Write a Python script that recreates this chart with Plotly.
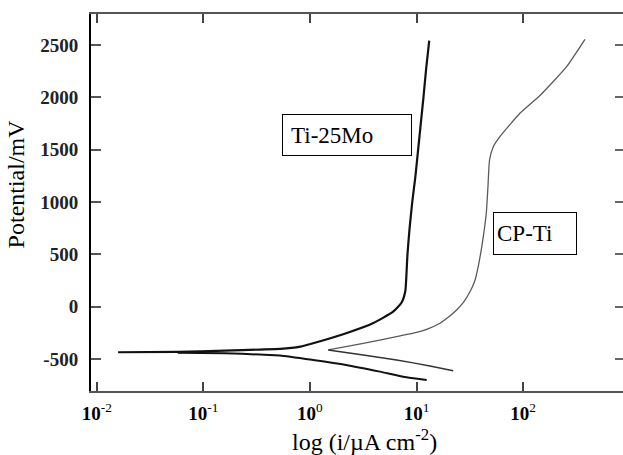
import plotly.graph_objects as go

# ---- data (log10 of current density in uA/cm2, potential in mV) ----
ti25mo_anodic_logi = [-1.80, -1.24, -0.80, -0.47, -0.28, -0.09, 0.03, 0.34, 0.59, 0.78, 0.86,
                      0.895, 0.905, 0.915, 0.935, 0.96, 0.99, 1.015, 1.04, 1.065, 1.09, 1.119]
ti25mo_anodic_E = [-436, -432, -421, -410, -404, -382, -350, -254, -159, -48, 40,
                   150, 300, 500, 750, 1000, 1250, 1500, 1750, 2000, 2270, 2541]

ti25mo_cathodic_logi = [-1.24, -0.80, -0.47, -0.28, 0.03, 0.34, 0.657, 0.907, 1.095]
ti25mo_cathodic_E = [-440, -445, -458, -466, -509, -557, -621, -675, -700]

cpti_anodic_logi = [0.172, 0.50, 0.813, 0.969, 1.10, 1.22, 1.30, 1.376, 1.44, 1.50, 1.548,
                    1.58, 1.61, 1.635, 1.655, 1.670, 1.685, 1.72, 1.782, 1.97, 2.16, 2.408, 2.58]
cpti_anodic_E = [-414, -350, -287, -254, -215, -159, -100, -32, 40, 140, 250,
                 390, 560, 730, 900, 1146, 1401, 1528, 1624, 1847, 2020, 2293, 2554]

cpti_cathodic_logi = [0.172, 0.50, 0.813, 1.126, 1.344]
cpti_cathodic_E = [-414, -462, -509, -567, -612]

x_tick_exps = [-2, -1, 0, 1, 2]
y_tick_vals = [-500, 0, 500, 1000, 1500, 2000, 2500]

FONT = "Liberation Serif"

fig = go.Figure()

def add(logi, E, color, width, name):
    fig.add_trace(go.Scatter(
        x=[10 ** v for v in logi], y=E, mode="lines", name=name,
        line=dict(color=color, width=width, shape="spline", smoothing=0.5),
        showlegend=False, hoverinfo="skip"))

add(ti25mo_anodic_logi, ti25mo_anodic_E, "#111111", 2.2, "Ti-25Mo")
add(ti25mo_cathodic_logi, ti25mo_cathodic_E, "#111111", 2.0, "Ti-25Mo")
add(cpti_anodic_logi, cpti_anodic_E, "#5a5a5a", 1.3, "CP-Ti")
add(cpti_cathodic_logi, cpti_cathodic_E, "#333333", 1.5, "CP-Ti")

# invisible trace so the right-hand tick axis is drawn
fig.add_trace(go.Scatter(x=[None], y=[None], yaxis="y2", mode="lines",
                         showlegend=False, hoverinfo="skip"))

fig.update_layout(
    width=623, height=455,
    margin=dict(l=91, r=0, t=14, b=64, autoexpand=False),
    paper_bgcolor="white", plot_bgcolor="white",
    font=dict(family=FONT, color="black"),
    xaxis=dict(
        type="log", range=[-2.054, 2.937], automargin=False,
        tickmode="array",
        tickvals=[10 ** e for e in x_tick_exps],
        ticktext=[f"<b>10</b><sup>{e}</sup>" for e in x_tick_exps],
        tickfont=dict(size=19, family=FONT, color="black"),
        ticks="inside", ticklen=9, tickwidth=1.5, tickcolor="#444",
        showline=True, linecolor="#555", linewidth=1.5, mirror="ticks",
        showgrid=False, zeroline=False, ticklabelstandoff=4,
    ),
    yaxis=dict(
        range=[-806, 2796], automargin=False,
        tickmode="array", tickvals=y_tick_vals,
        ticktext=[str(v) for v in y_tick_vals],
        tickfont=dict(size=19, family=FONT, color="#222", weight="bold"),
        ticks="inside", ticklen=10, tickwidth=1.5, tickcolor="#555",
        showline=True, linecolor="black", linewidth=2, mirror=False,
        showgrid=False, zeroline=False, ticklabelstandoff=7,
    ),
    yaxis2=dict(
        overlaying="y", side="right", matches="y", automargin=False,
        tickmode="array", tickvals=y_tick_vals, showticklabels=False,
        ticks="inside", ticklen=8, tickwidth=1.5, tickcolor="#666",
        showline=False, showgrid=False, zeroline=False,
    ),
    annotations=[
        dict(text="Potential/mV", xref="paper", yref="paper", x=-0.1403, y=0.549,
             xanchor="center", yanchor="middle", textangle=-90, showarrow=False,
             font=dict(size=24, family=FONT, color="black")),
        dict(text="log (i/\u00b5A cm<sup>-2</sup>)", xref="paper", yref="paper",
             x=0.515, y=-0.130, xanchor="center", yanchor="middle", showarrow=False,
             font=dict(size=24, family=FONT, color="black")),
        dict(text="Ti-25Mo", xref="paper", yref="paper", x=0.3597, y=0.7347,
             xanchor="left", yanchor="top", showarrow=False, align="left",
             width=112, height=24, borderpad=8, borderwidth=1, bordercolor="black",
             bgcolor="white", font=dict(size=23, family=FONT, color="black")),
        dict(text="CP-Ti", xref="paper", yref="paper", x=0.7547, y=0.4748,
             xanchor="left", yanchor="top", showarrow=False, align="left",
             width=76, height=35, borderpad=3, borderwidth=1, bordercolor="black",
             bgcolor="white", font=dict(size=23, family=FONT, color="black")),
    ],
)

fig.write_html("out.html")
